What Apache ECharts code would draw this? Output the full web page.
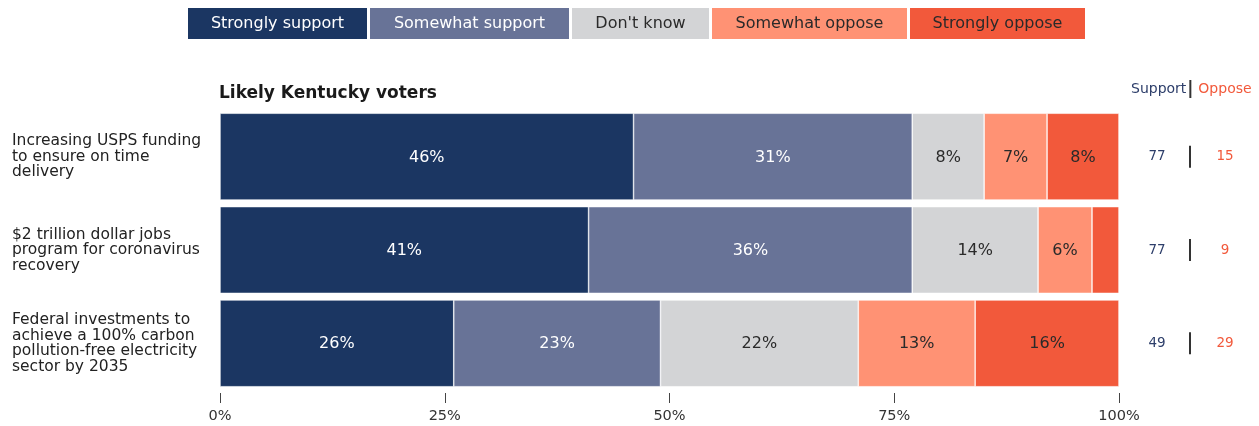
<!DOCTYPE html>
<html>
<head>
<meta charset="utf-8">
<script src="https://cdn.jsdelivr.net/npm/echarts@6/dist/echarts.min.js"></script>
<style>
html,body{margin:0;padding:0;background:#fff;}
#chart{width:1259px;height:426px;}
</style>
</head>
<body>
<div id="chart"></div>
<script>
const categories = [
  "Increasing USPS funding\nto ensure on time\ndelivery",
  "$2 trillion dollar jobs\nprogram for coronavirus\nrecovery",
  "Federal investments to\nachieve a 100% carbon\npollution-free electricity\nsector by 2035"
];
const seriesNames = ["Strongly support", "Somewhat support", "Don't know", "Somewhat oppose", "Strongly oppose"];
const stronglySupport = [46, 41, 26];
const somewhatSupport = [31, 36, 23];
const dontKnow = [8, 14, 22];
const somewhatOppose = [7, 6, 13];
const stronglyOppose = [8, 3, 16];
const supportTotals = [77, 77, 49];
const opposeTotals = [15, 9, 29];
const xTicks = [0, 25, 50, 75, 100];

const colors = ["#1b3662", "#687397", "#d3d4d6", "#ff9274", "#f2593b"];
const labelColors = ["#ffffff", "#ffffff", "#2a2a2a", "#2a2a2a", "#2a2a2a"];
const legendWidths = [179, 199, 137, 195, 175];
const FONT = "'DejaVu Sans', sans-serif";

const allValues = [stronglySupport, somewhatSupport, dontKnow, somewhatOppose, stronglyOppose];

const legendRich = {};
seriesNames.forEach((n, i) => {
  legendRich['k' + i] = {
    backgroundColor: colors[i], color: labelColors[i], width: legendWidths[i], height: 31,
    align: 'center', fontSize: 16, fontFamily: FONT
  };
});

const series = seriesNames.map((name, i) => ({
  name: name,
  type: 'bar',
  stack: 'total',
  barCategoryGap: '7%',
  data: allValues[i],
  itemStyle: { color: colors[i], borderColor: '#ffffff', borderWidth: 0.6 },
  label: {
    show: true, position: 'inside', color: labelColors[i], fontSize: 16, fontFamily: FONT,
    offset: [0, 1],
    formatter: p => p.value >= 5 ? p.value + '%' : ''
  },
  emphasis: { disabled: true }
}));

const chart = echarts.init(document.getElementById('chart'));
chart.setOption({
  animation: false,
  textStyle: { fontFamily: FONT },
  color: colors,
  title: [
    { text: 'Likely Kentucky voters', left: 219, top: 85, padding: 0,
      textStyle: { fontSize: 17, fontWeight: 'bold', color: '#1a1a1a', fontFamily: FONT } },
    { text: '{s|Support}{g| }{sep| }{g| }{o|Oppose}', left: 1131, top: 80, padding: 0,
      textStyle: { fontWeight: 'normal', rich: {
        s: { color: '#2d3e6a', fontSize: 14, fontFamily: FONT, fontWeight: 'normal' },
        g: { width: 3, fontSize: 13 },
        sep: { backgroundColor: '#333', width: 2, height: 18 },
        o: { color: '#f2593b', fontSize: 14, fontFamily: FONT, fontWeight: 'normal', padding: [0, 0, 0, 4] }
      } } }
  ],
  legend: {
    data: seriesNames,
    top: 8, left: 182, padding: 0,
    itemWidth: 0, itemHeight: 0, itemGap: -3,
    selectedMode: false,
    formatter: name => '{k' + seriesNames.indexOf(name) + '|' + name + '}',
    textStyle: { rich: legendRich }
  },
  grid: { left: 220, right: 140, top: 110, bottom: 36, containLabel: false },
  xAxis: {
    type: 'value', min: 0, max: 100, interval: 25, offset: 3,
    axisLine: { show: false },
    axisTick: { show: true, length: 10, lineStyle: { color: '#444' } },
    splitLine: { show: false },
    axisLabel: { color: '#333', fontSize: 14.5, fontFamily: FONT, margin: 16,
      formatter: v => xTicks.includes(v) ? v + '%' : '' }
  },
  yAxis: [
    { type: 'category', data: categories, inverse: true,
      axisLine: { show: false }, axisTick: { show: false },
      axisLabel: { align: 'left', margin: 208, color: '#222', fontSize: 15.5, lineHeight: 15.5, fontFamily: FONT } },
    { type: 'category', data: categories, inverse: true, position: 'right',
      axisLine: { show: false }, axisTick: { show: false },
      axisLabel: { align: 'left', margin: 10,
        formatter: (v, idx) => '{s|' + supportTotals[idx] + '}{g| }{sep| }{o|' + opposeTotals[idx] + '}',
        rich: {
          s: { color: '#2d3e6a', fontSize: 13.5, fontFamily: FONT, width: 56, align: 'center' },
          g: { width: 4, fontSize: 13 },
          sep: { backgroundColor: '#333', width: 2, height: 22 },
          o: { color: '#f2593b', fontSize: 13.5, fontFamily: FONT, width: 68, align: 'center' }
        } } }
  ],
  series: series
});
</script>
</body>
</html>
